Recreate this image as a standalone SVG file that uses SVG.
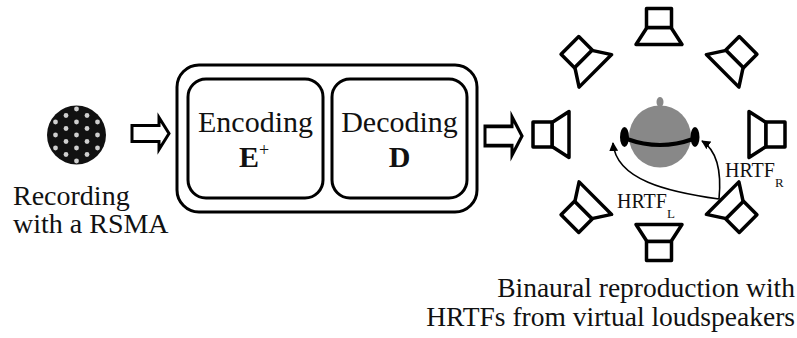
<svg xmlns="http://www.w3.org/2000/svg" width="797" height="338" viewBox="0 0 797 338">
  <style>
    text { font-family: 'Liberation Serif', 'Times New Roman', Times, 'DejaVu Serif', serif; fill: #111; }
    .bold { font-weight: bold; }
    .box { fill: #fff; stroke: #000; stroke-width: 3; }
    .blockarrow { fill: #fff; stroke: #000; stroke-width: 3; stroke-linejoin: miter; }
    .spk { fill: #fff; stroke: #000; stroke-width: 3.5; stroke-linejoin: round; }
    .dot { fill: #cfcfcf; }
    .conn { fill: none; stroke: #000; stroke-width: 1.6; }
  </style>
  <defs>
    <marker id="tip" viewBox="0 0 10 10" refX="9" refY="5" markerWidth="9" markerHeight="9" markerUnits="userSpaceOnUse" orient="auto">
      <path d="M0,0 L10,5 L0,10 Z" fill="#000"/>
    </marker>
    <!-- loudspeaker, pointing inward along -x; cone mouth at x=90 from the listener -->
    <g id="speaker">
      <polygon class="spk" points="90,-23 107,-12 107,12 90,23"/>
      <rect class="spk" x="107" y="-12.5" width="19" height="25"/>
    </g>
    <path id="hollowArrow" d="M0,-8 L27,-8 L27,-16 L37,0 L27,16 L27,8 L0,8 Z"/>
  </defs>

  <!-- spherical microphone array -->
  <g id="rsma">
    <circle cx="76.5" cy="135" r="29.5" fill="#111"/>
    <g>
      <circle class="dot" cx="76.5" cy="109" r="2.4"/>
      <circle class="dot" cx="66" cy="115.5" r="2.4"/>
      <circle class="dot" cx="87" cy="115.5" r="2.4"/>
      <circle class="dot" cx="55.5" cy="122" r="2.4"/>
      <circle class="dot" cx="76.5" cy="122" r="2.4"/>
      <circle class="dot" cx="97.5" cy="122" r="2.4"/>
      <circle class="dot" cx="66" cy="128.5" r="2.4"/>
      <circle class="dot" cx="87" cy="128.5" r="2.4"/>
      <circle class="dot" cx="55.5" cy="135" r="2.4"/>
      <circle class="dot" cx="76.5" cy="135" r="2.4"/>
      <circle class="dot" cx="97.5" cy="135" r="2.4"/>
      <circle class="dot" cx="66" cy="141.5" r="2.4"/>
      <circle class="dot" cx="87" cy="141.5" r="2.4"/>
      <circle class="dot" cx="55.5" cy="148" r="2.4"/>
      <circle class="dot" cx="76.5" cy="148" r="2.4"/>
      <circle class="dot" cx="97.5" cy="148" r="2.4"/>
      <circle class="dot" cx="66" cy="154.5" r="2.4"/>
      <circle class="dot" cx="87" cy="154.5" r="2.4"/>
      <circle class="dot" cx="76.5" cy="161" r="2.4"/>
    </g>
    <text font-size="28" x="13" y="205">Recording</text>
    <text font-size="28" x="13" y="233">with a RSMA</text>
  </g>

  <!-- processing chain -->
  <g id="processing">
    <rect class="box" x="177" y="65" width="300" height="147" rx="22"/>
  </g>
  <g id="encoding">
    <rect class="box" x="188" y="79" width="135" height="119" rx="18"/>
    <text font-size="30" x="255.5" y="132" text-anchor="middle">Encoding</text>
    <text class="bold" font-size="30" x="254" y="167" text-anchor="middle">E<tspan font-size="18" font-weight="normal" dy="-11">+</tspan></text>
  </g>
  <g id="decoding">
    <rect class="box" x="332" y="79" width="135" height="119" rx="18"/>
    <text font-size="30" x="399.5" y="132" text-anchor="middle">Decoding</text>
    <text class="bold" font-size="30" x="399.5" y="167" text-anchor="middle">D</text>
  </g>

  <!-- block arrows between stages, and the two HRTF paths -->
  <g id="connectors">
    <use href="#hollowArrow" class="blockarrow" transform="translate(132 133.5)"/>
    <use href="#hollowArrow" class="blockarrow" transform="translate(485 136) scale(1 1.2)"/>
    <path class="conn" d="M719,199 C668,192 616,180 613,143" marker-end="url(#tip)"/>
    <path class="conn" d="M719,199 C722,168 716,150 702,141" marker-end="url(#tip)"/>
  </g>

  <!-- virtual loudspeaker ring around the listener -->
  <g id="loudspeakers" transform="translate(659 134.5)">
    <use href="#speaker" transform="rotate(180)"/>
    <use href="#speaker" transform="rotate(225)"/>
    <use href="#speaker" transform="rotate(270)"/>
    <use href="#speaker" transform="rotate(315)"/>
    <use href="#speaker" transform="rotate(0)"/>
    <use href="#speaker" transform="rotate(45)"/>
    <use href="#speaker" transform="rotate(90)"/>
    <use href="#speaker" transform="rotate(135)"/>
  </g>

  <!-- listener head with headphones -->
  <g id="listener">
    <ellipse cx="660" cy="102" rx="3.5" ry="5" fill="#888"/>
    <circle cx="660" cy="136.5" r="31" fill="#888"/>
    <path d="M627,139 Q660,151 693,139" fill="none" stroke="#000" stroke-width="4"/>
    <ellipse cx="624.5" cy="137" rx="4.5" ry="10" fill="#000"/>
    <ellipse cx="695" cy="137" rx="4.5" ry="10" fill="#000"/>
  </g>

  <g id="hrtf-labels">
    <text font-size="20" x="725" y="177">HRTF<tspan font-size="13" dy="10">R</tspan></text>
    <text font-size="20" x="617" y="208">HRTF<tspan font-size="13" dy="10">L</tspan></text>
  </g>

  <g id="caption">
    <text font-size="27.5" x="795" y="297" text-anchor="end">Binaural reproduction with</text>
    <text font-size="27.5" x="795" y="326" text-anchor="end">HRTFs from virtual loudspeakers</text>
  </g>
</svg>
